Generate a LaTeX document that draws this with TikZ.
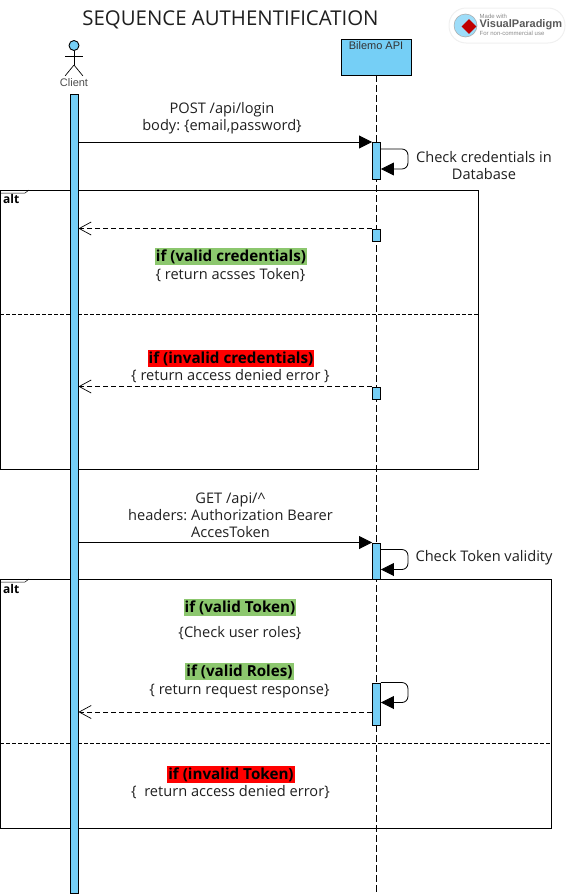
\documentclass[tikz,border=0pt]{standalone}
\usepackage{fontspec}
\setmainfont{Open Sans}
\newfontfamily\umlfont{Liberation Sans}
\usetikzlibrary{arrows.meta, shapes.geometric}

\definecolor{umlblue}{HTML}{75CFF6}
\definecolor{okgreen}{HTML}{8CC76E}

\tikzset{
    main/.style = {draw, fill=umlblue, line width=0.9pt, inner sep=0pt},
    bar/.style = {main, minimum width=8pt},
    msg/.style = {line width=0.8pt, -{Triangle[length=13pt,width=13pt]}},
    answer/.style = {line width=0.7pt, dashed, dash pattern=on 5pt off 3pt, -{Straight Barb[length=12pt,width=13pt]}},
    selfmsg/.style = {line width=0.8pt, rounded corners=6pt, -{Triangle[length=13pt,width=13pt]}},
    label/.style = {font=\fontsize{14.6}{17}\selectfont, text=black!88, align=center, inner sep=0pt},
    okcond/.style = {label, fill=okgreen, text=black, font=\fontsize{15.2}{18}\selectfont\bfseries, inner xsep=1pt, inner ysep=1.5pt},
    badcond/.style = {label, fill=red, text=black, font=\fontsize{15.2}{18}\selectfont\bfseries, inner xsep=1pt, inner ysep=1.5pt},
    frame/.style = {draw, line width=0.9pt},
    altlabel/.style = {font=\fontsize{12}{14}\selectfont\bfseries, inner sep=0pt, anchor=west},
}

\begin{document}
\frenchspacing
\begin{tikzpicture}[x=1pt, y=-1pt]
    \useasboundingbox (0,0) rectangle (570,894);

    % Lifeline
    \node[main, minimum width=70pt, minimum height=36pt] (api) at (376,57) {};
    \node[font=\umlfont\fontsize{11}{13}\selectfont, text=black!80, inner sep=0pt] (apilabel) at (376,46) {Bilemo API};
    \node[inner sep=0pt, minimum size=0pt] (apiend) at (376,894) {};
    \draw[line width=0.7pt, dash pattern=on 7pt off 3pt] (api) -- (apiend);

    % Frames
    \node[frame, minimum width=478pt, minimum height=279pt, anchor=north west, inner sep=0pt] (altone) at (0,190) {};
    \node[frame, minimum width=551pt, minimum height=249pt, anchor=north west, inner sep=0pt] (alttwo) at (0,579) {};
    \node[altlabel] (altonelabel) at (3,199) {alt};
    \node[altlabel] (alttwolabel) at (3,589) {alt};
    \draw[line width=0.5pt] (altone.north west) ++(0,3) -- ++(25,0) -- ++(4,-3);
    \draw[line width=0.5pt] (alttwo.north west) ++(0,3) -- ++(25,0) -- ++(4,-3);
    \draw[line width=0.7pt, dash pattern=on 4pt off 2pt] (0,314) -- (478,314);
    \draw[line width=0.7pt, dash pattern=on 4pt off 2pt] (0,743) -- (551,743);

    % Actor
    \node[main, circle, minimum size=10pt] (head) at (74,45.5) {};
    \node[inner sep=0pt, minimum size=0pt] (hip) at (74,65) {};
    \node[inner sep=0pt, minimum size=0pt] (footl) at (65,76) {};
    \node[inner sep=0pt, minimum size=0pt] (footr) at (83,76) {};
    \node[inner sep=0pt, minimum size=0pt] (arml) at (65,56.5) {};
    \node[inner sep=0pt, minimum size=0pt] (armr) at (83,56.5) {};
    \draw[line width=0.7pt] (head) -- (hip);
    \draw[line width=0.7pt] (arml) -- (armr);
    \draw[line width=0.7pt] (footl) -- (hip) -- (footr);
    \node[font=\umlfont\fontsize{11}{13}\selectfont, text=black!70, inner sep=0pt] (client) at (74,82.5) {Client};

    % Bars
    \node[bar, minimum height=799pt, anchor=north] (clientbar) at (74,93.5) {};
    \node[bar, minimum height=37pt, anchor=north] (barA) at (376.5,142) {};
    \node[bar, minimum height=12pt, anchor=north] (barB) at (376.5,228.5) {};
    \node[bar, minimum height=12pt, anchor=north] (barC) at (376.5,386.5) {};
    \node[bar, minimum height=36pt, anchor=north] (barD) at (376.5,542.5) {};
    \node[bar, minimum height=42pt, anchor=north] (barE) at (376.5,682.5) {};

    % Lines
    \draw[msg] (clientbar.east |- barA.north) -- (barA.north west);
    \draw[msg] (clientbar.east |- barD.north) -- (barD.north west);
    \draw[answer] (barB.north west) -- (clientbar.east |- barB.north);
    \draw[answer] (barC.north west) -- (clientbar.east |- barC.north);
    \draw[answer] (barE.west |- 0,712) -- (clientbar.east |- 0,712);

    % Loops
    \draw[selfmsg] ([yshift=-7pt]barA.north east) -- ++(27,0) -- ++(0,20) -- ++(-27,0);
    \draw[selfmsg] ([yshift=-7pt]barD.north east) -- ++(27,0) -- ++(0,20) -- ++(-27,0);
    \draw[selfmsg] (barE.north east) -- ++(27,0) -- ++(0,20) -- ++(-27,0);

    % Labels
    \node[label, font=\fontsize{20.4}{24}\selectfont] (title) at (230.5,20) {SEQUENCE AUTHENTIFICATION};
    \node[label] (post) at (222,118) {POST /api/login\\body: \{email,password\}};
    \node[label] (check) at (484,165.5) {Check credentials in\\Database};
    \node[okcond] (validcred) at (231,256.5) {if (valid credentials)};
    \node[label] (token) at (230.5,275) {\{ return acsses Token\}};
    \node[badcond] (invalidcred) at (231,358.5) {if (invalid credentials)};
    \node[label] (denied) at (230.5,376.5) {\{ return access denied error \}};
    \node[label] (get) at (230.5,515.5) {GET /api/\textasciicircum\\headers: Authorization Bearer\\AccesToken};
    \node[label] (checktoken) at (484,558) {Check Token validity};
    \node[okcond] (validtoken) at (240,607.5) {if (valid Token)};
    \node[label] (roles) at (240,633) {\{Check user roles\}};
    \node[okcond] (validroles) at (239.5,671.5) {if (valid Roles)};
    \node[label] (response) at (239.5,691) {\{ return request response\}};
    \node[badcond] (invalidtoken) at (231,774.5) {if (invalid Token)};
    \node[label] (deniedtwo) at (230.5,792) {\{~ return access denied error\}};

    % Badge
    \node[draw=black!6, fill=white, rounded corners=17pt, line width=1pt, minimum width=116pt, minimum height=35pt] (badge) at (507,25.5) {};
    \node[circle, draw=black!35, fill=umlblue!70, line width=0.5pt, minimum size=23pt, inner sep=0pt] (globe) at (465.5,25.5) {};
    \node[diamond, fill=red!75!black, minimum size=15pt, inner sep=0pt] (logo) at (469,26.5) {};
    \node[font=\umlfont\fontsize{6}{7}\selectfont, text=black!45, inner sep=0pt, anchor=west] (madewith) at (479.5,16) {Made with};
    \node[font=\umlfont\bfseries\fontsize{11}{12}\selectfont, text=black!65, inner sep=0pt, anchor=west] (vp) at (479.5,24.5) {VisualParadigm};
    \node[font=\umlfont\fontsize{6}{7}\selectfont, text=black!45, inner sep=0pt, anchor=west] (noncom) at (479.5,33.5) {For non-commercial use};
\end{tikzpicture}
\end{document}
